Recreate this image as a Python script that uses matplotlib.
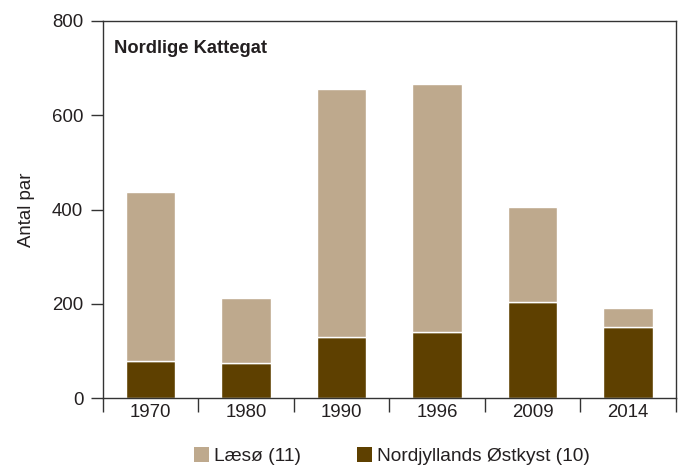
import matplotlib
matplotlib.use("Agg")
import matplotlib.pyplot as plt
from matplotlib.patches import Patch

plt.rcParams['font.family'] = ['Liberation Sans', 'DejaVu Sans']

years = ['1970', '1980', '1990', '1996', '2009', '2014']
nordjylland = [80, 75, 129, 140, 203, 152]
laesoe = [358, 137, 526, 525, 202, 40]
series_labels = ['Læsø (11)', 'Nordjyllands Østkyst (10)']
y_ticks = [0, 200, 400, 600, 800]

c_light = '#BEA98D'
c_dark = '#5E4000'
txt = '#231F20'
spine_c = '#333333'
fs = 13.4

fig = plt.figure(figsize=(6.78, 4.68), dpi=100)
ax = fig.add_axes([0.1515, 0.1489, 0.9966 - 0.1515, 0.9558 - 0.1489])

x = list(range(len(years)))
ax.bar(x, nordjylland, width=0.52, color=c_dark, edgecolor='white', linewidth=1.0, zorder=2)
ax.bar(x, laesoe, width=0.52, bottom=nordjylland, color=c_light, edgecolor='white', linewidth=1.0, zorder=2)

ax.set_xlim(-0.5, len(years) - 0.5)
ax.set_ylim(0, 800)
ax.set_yticks(y_ticks)
ax.set_yticklabels([str(v) for v in y_ticks])

ax.set_xticks([i - 0.5 for i in range(len(years) + 1)])
ax.set_xticklabels([''] * (len(years) + 1))
ax.set_xticks(x, minor=True)
ax.set_xticklabels(years, minor=True)
ax.tick_params(axis='x', which='major', length=10, width=1.0, color=spine_c, direction='out')
ax.tick_params(axis='x', which='minor', length=0, pad=4, labelsize=fs, labelcolor=txt)
ax.tick_params(axis='y', length=9, width=1.0, color=spine_c, pad=5, labelsize=fs, labelcolor=txt)

for s in ax.spines.values():
    s.set_color(spine_c)
    s.set_linewidth(1.0)

ax.set_ylabel('Antal par', fontsize=fs, color=txt, labelpad=12)
ax.text(0.019, 0.95, 'Nordlige Kattegat', transform=ax.transAxes, fontsize=13.2,
        fontweight='bold', color=txt, ha='left', va='top')

handles = [Patch(facecolor=c_light, edgecolor='none'), Patch(facecolor=c_dark, edgecolor='none')]
fig.legend(handles, series_labels, loc='center left', bbox_to_anchor=(194 / 678, 12 / 468),
           ncol=2, frameon=False, fontsize=13.8, handlelength=0.8, handleheight=0.8,
           handletextpad=0.25, columnspacing=2.9, borderpad=0, borderaxespad=0,
           labelcolor=txt)

fig.savefig('out.png', dpi=100)
